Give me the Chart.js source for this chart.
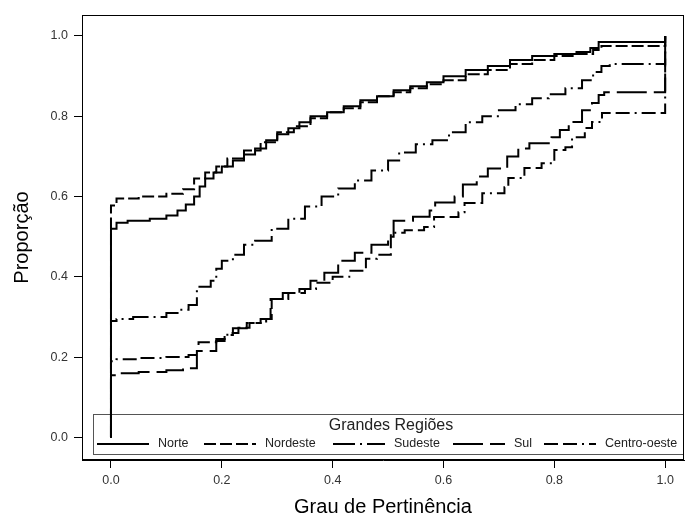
<!DOCTYPE html>
<html>

<head>
    <title>Grandes Regiões</title>
    <style>
        html, body { margin: 0; padding: 0; background: #fff; }
        #wrap { width: 686px; height: 518px; }
    </style>
</head>

<body>
    <div id="wrap"><canvas id="lineChart" width="686" height="518"></canvas></div>

    <script src="https://cdn.jsdelivr.net/npm/chart.js"></script>
    <script>
        // tick labels
        const xTicks = [0, 0.2, 0.4, 0.6, 0.8, 1.0];
        const yTicks = [0, 0.2, 0.4, 0.6, 0.8, 1.0];

        // series (step points: x where the curve jumps, y level after the jump)
        const norteX = [0, 0, 0.01, 0.03, 0.07, 0.10, 0.12, 0.135, 0.15, 0.16, 0.17, 0.185, 0.20, 0.22, 0.24, 0.26, 0.28, 0.30, 0.32, 0.34, 0.36, 0.39, 0.42, 0.45, 0.48, 0.51, 0.54, 0.57, 0.60, 0.64, 0.68, 0.72, 0.76, 0.80, 0.84, 0.865, 0.88, 1.0];
        const norteY = [0, 0.52, 0.535, 0.54, 0.545, 0.553, 0.565, 0.58, 0.60, 0.625, 0.645, 0.66, 0.675, 0.69, 0.705, 0.72, 0.74, 0.755, 0.77, 0.785, 0.80, 0.81, 0.825, 0.84, 0.85, 0.865, 0.875, 0.885, 0.90, 0.915, 0.925, 0.94, 0.95, 0.955, 0.96, 0.97, 0.985, 1.0];

        const nordesteX = [0, 0, 0.01, 0.05, 0.10, 0.13, 0.15, 0.17, 0.19, 0.21, 0.24, 0.27, 0.30, 0.33, 0.36, 0.39, 0.42, 0.45, 0.48, 0.51, 0.54, 0.57, 0.60, 0.64, 0.68, 0.72, 0.76, 0.80, 0.84, 0.87, 0.885, 1.0];
        const nordesteY = [0, 0.578, 0.595, 0.60, 0.607, 0.618, 0.645, 0.66, 0.675, 0.695, 0.715, 0.735, 0.76, 0.775, 0.795, 0.81, 0.82, 0.835, 0.85, 0.86, 0.87, 0.88, 0.89, 0.905, 0.915, 0.93, 0.94, 0.95, 0.955, 0.965, 0.975, 1.0];

        const sudesteX = [0, 0, 0.01, 0.04, 0.10, 0.125, 0.14, 0.155, 0.18, 0.19, 0.20, 0.22, 0.24, 0.26, 0.29, 0.32, 0.35, 0.38, 0.41, 0.44, 0.47, 0.50, 0.52, 0.55, 0.58, 0.61, 0.64, 0.67, 0.70, 0.73, 0.76, 0.79, 0.82, 0.85, 0.87, 0.885, 0.90, 1.0];
        const sudesteY = [0, 0.29, 0.295, 0.30, 0.31, 0.318, 0.33, 0.375, 0.39, 0.42, 0.44, 0.455, 0.48, 0.49, 0.52, 0.545, 0.575, 0.60, 0.62, 0.64, 0.665, 0.69, 0.71, 0.73, 0.74, 0.76, 0.785, 0.80, 0.815, 0.83, 0.845, 0.855, 0.87, 0.89, 0.91, 0.925, 0.93, 1.0];

        const sulX = [0, 0, 0.01, 0.05, 0.10, 0.13, 0.155, 0.19, 0.205, 0.22, 0.245, 0.27, 0.288, 0.31, 0.34, 0.36, 0.385, 0.41, 0.44, 0.47, 0.50, 0.51, 0.545, 0.575, 0.585, 0.62, 0.635, 0.66, 0.68, 0.715, 0.735, 0.755, 0.795, 0.81, 0.826, 0.85, 0.868, 0.88, 0.89, 1.0];
        const sulY = [0, 0.155, 0.16, 0.163, 0.167, 0.172, 0.215, 0.24, 0.255, 0.272, 0.285, 0.295, 0.345, 0.36, 0.37, 0.39, 0.41, 0.44, 0.46, 0.48, 0.50, 0.54, 0.55, 0.565, 0.585, 0.60, 0.63, 0.65, 0.67, 0.70, 0.72, 0.733, 0.748, 0.766, 0.786, 0.815, 0.833, 0.853, 0.86, 1.0];

        const centroX = [0, 0, 0.01, 0.05, 0.10, 0.14, 0.158, 0.19, 0.21, 0.23, 0.25, 0.28, 0.29, 0.32, 0.35, 0.37, 0.40, 0.43, 0.46, 0.48, 0.505, 0.53, 0.565, 0.583, 0.627, 0.638, 0.67, 0.71, 0.717, 0.746, 0.777, 0.80, 0.82, 0.832, 0.855, 0.868, 0.886, 1.0];
        const centroY = [0, 0.19, 0.195, 0.198, 0.20, 0.205, 0.237, 0.245, 0.26, 0.273, 0.285, 0.295, 0.345, 0.36, 0.37, 0.385, 0.40, 0.415, 0.445, 0.455, 0.51, 0.516, 0.524, 0.549, 0.561, 0.584, 0.608, 0.623, 0.646, 0.671, 0.683, 0.716, 0.723, 0.748, 0.771, 0.786, 0.808, 1.0];

        const toPoints = (xs, ys) => xs.map((x, i) => ({ x: x, y: ys[i] }));

        const makeSet = (label, xs, ys, dash) => ({
            label: label,
            data: toPoints(xs, ys),
            borderColor: '#000',
            borderWidth: 2,
            borderDash: dash,
            pointRadius: 0,
            stepped: 'before',
            fill: false,
        });

        // legend box inside the plot area, like the original
        const legendBox = {
            id: 'legendBox',
            beforeDatasetsDraw(chart) {
                const ctx = chart.ctx;
                const sets = chart.data.datasets;
                const lineX = [97, 204, 333, 453, 544];
                ctx.save();
                ctx.strokeStyle = '#555';
                ctx.lineWidth = 1;
                ctx.strokeRect(93.5, 414.5, 590, 40);
                ctx.fillStyle = '#222';
                ctx.font = '16px "Liberation Sans", Arial, sans-serif';
                ctx.textAlign = 'center';
                ctx.textBaseline = 'middle';
                ctx.fillText('Grandes Regiões', 391, 426);
                ctx.font = '12.5px "Liberation Sans", Arial, sans-serif';
                ctx.textAlign = 'left';
                sets.forEach((ds, i) => {
                    const x0 = lineX[i];
                    ctx.beginPath();
                    ctx.setLineDash(ds.borderDash || []);
                    ctx.lineWidth = 2;
                    ctx.strokeStyle = '#000';
                    ctx.moveTo(x0, 444);
                    ctx.lineTo(x0 + 52, 444);
                    ctx.stroke();
                    ctx.setLineDash([]);
                    ctx.fillText(ds.label, x0 + 61, 444);
                });
                ctx.restore();
            },
            afterDraw(chart) {
                const a = chart.chartArea;
                const ctx = chart.ctx;
                ctx.save();
                ctx.strokeStyle = '#000';
                ctx.lineWidth = 1;
                ctx.strokeRect(Math.round(a.left) + 0.5, Math.round(a.top) + 0.5, Math.round(a.right - a.left) - 1, Math.round(a.bottom - a.top) - 1);
                ctx.restore();
            },
        };

        const tickFont = { family: '"Liberation Sans", Arial, sans-serif', size: 12.5 };
        const titleFont = { family: '"Liberation Sans", Arial, sans-serif', size: 20, lineHeight: 1 };

        new Chart(document.getElementById('lineChart'), {
            type: 'line',
            data: {
                datasets: [
                    makeSet('Norte', norteX, norteY, []),
                    makeSet('Nordeste', nordesteX, nordesteY, [12, 4]),
                    makeSet('Sudeste', sudesteX, sudesteY, [22, 5, 2, 5]),
                    makeSet('Sul', sulX, sulY, [30, 7]),
                    makeSet('Centro-oeste', centroX, centroY, [14, 5, 14, 5, 2, 5]),
                ],
            },
            options: {
                responsive: false,
                animation: false,
                layout: { padding: { top: 15, right: 2, left: 0, bottom: 0 } },
                plugins: {
                    legend: { display: false },
                    tooltip: { enabled: false },
                },
                scales: {
                    x: {
                        type: 'linear',
                        min: -0.0523,
                        max: 1.034,
                        afterBuildTicks: (scale) => { scale.ticks = xTicks.map(v => ({ value: v })); },
                        afterFit: (scale) => { scale.height = 58; },
                        ticks: {
                            font: tickFont,
                            color: '#333',
                            padding: 5,
                            maxRotation: 0,
                            callback: (v) => v.toFixed(1),
                        },
                        grid: { drawOnChartArea: false, drawTicks: true, tickLength: 8, color: '#000' },
                        border: { display: true, color: '#000' },
                        title: {
                            display: true,
                            text: 'Grau de Pertinência',
                            font: titleFont,
                            color: '#000',
                            padding: { top: 0, bottom: 1 },
                        },
                    },
                    y: {
                        type: 'linear',
                        min: -0.0563,
                        max: 1.0523,
                        afterBuildTicks: (scale) => { scale.ticks = yTicks.map(v => ({ value: v })); },
                        afterFit: (scale) => { scale.width = 82; },
                        ticks: {
                            font: tickFont,
                            color: '#333',
                            padding: 6,
                            callback: (v) => v.toFixed(1),
                        },
                        grid: { drawOnChartArea: false, drawTicks: true, tickLength: 8, color: '#000' },
                        border: { display: true, color: '#000' },
                        title: {
                            display: true,
                            text: 'Proporção',
                            font: titleFont,
                            color: '#000',
                            padding: { top: 12, bottom: 0 },
                        },
                    },
                },
            },
            plugins: [legendBox],
        });
    </script>
</body>

</html>
